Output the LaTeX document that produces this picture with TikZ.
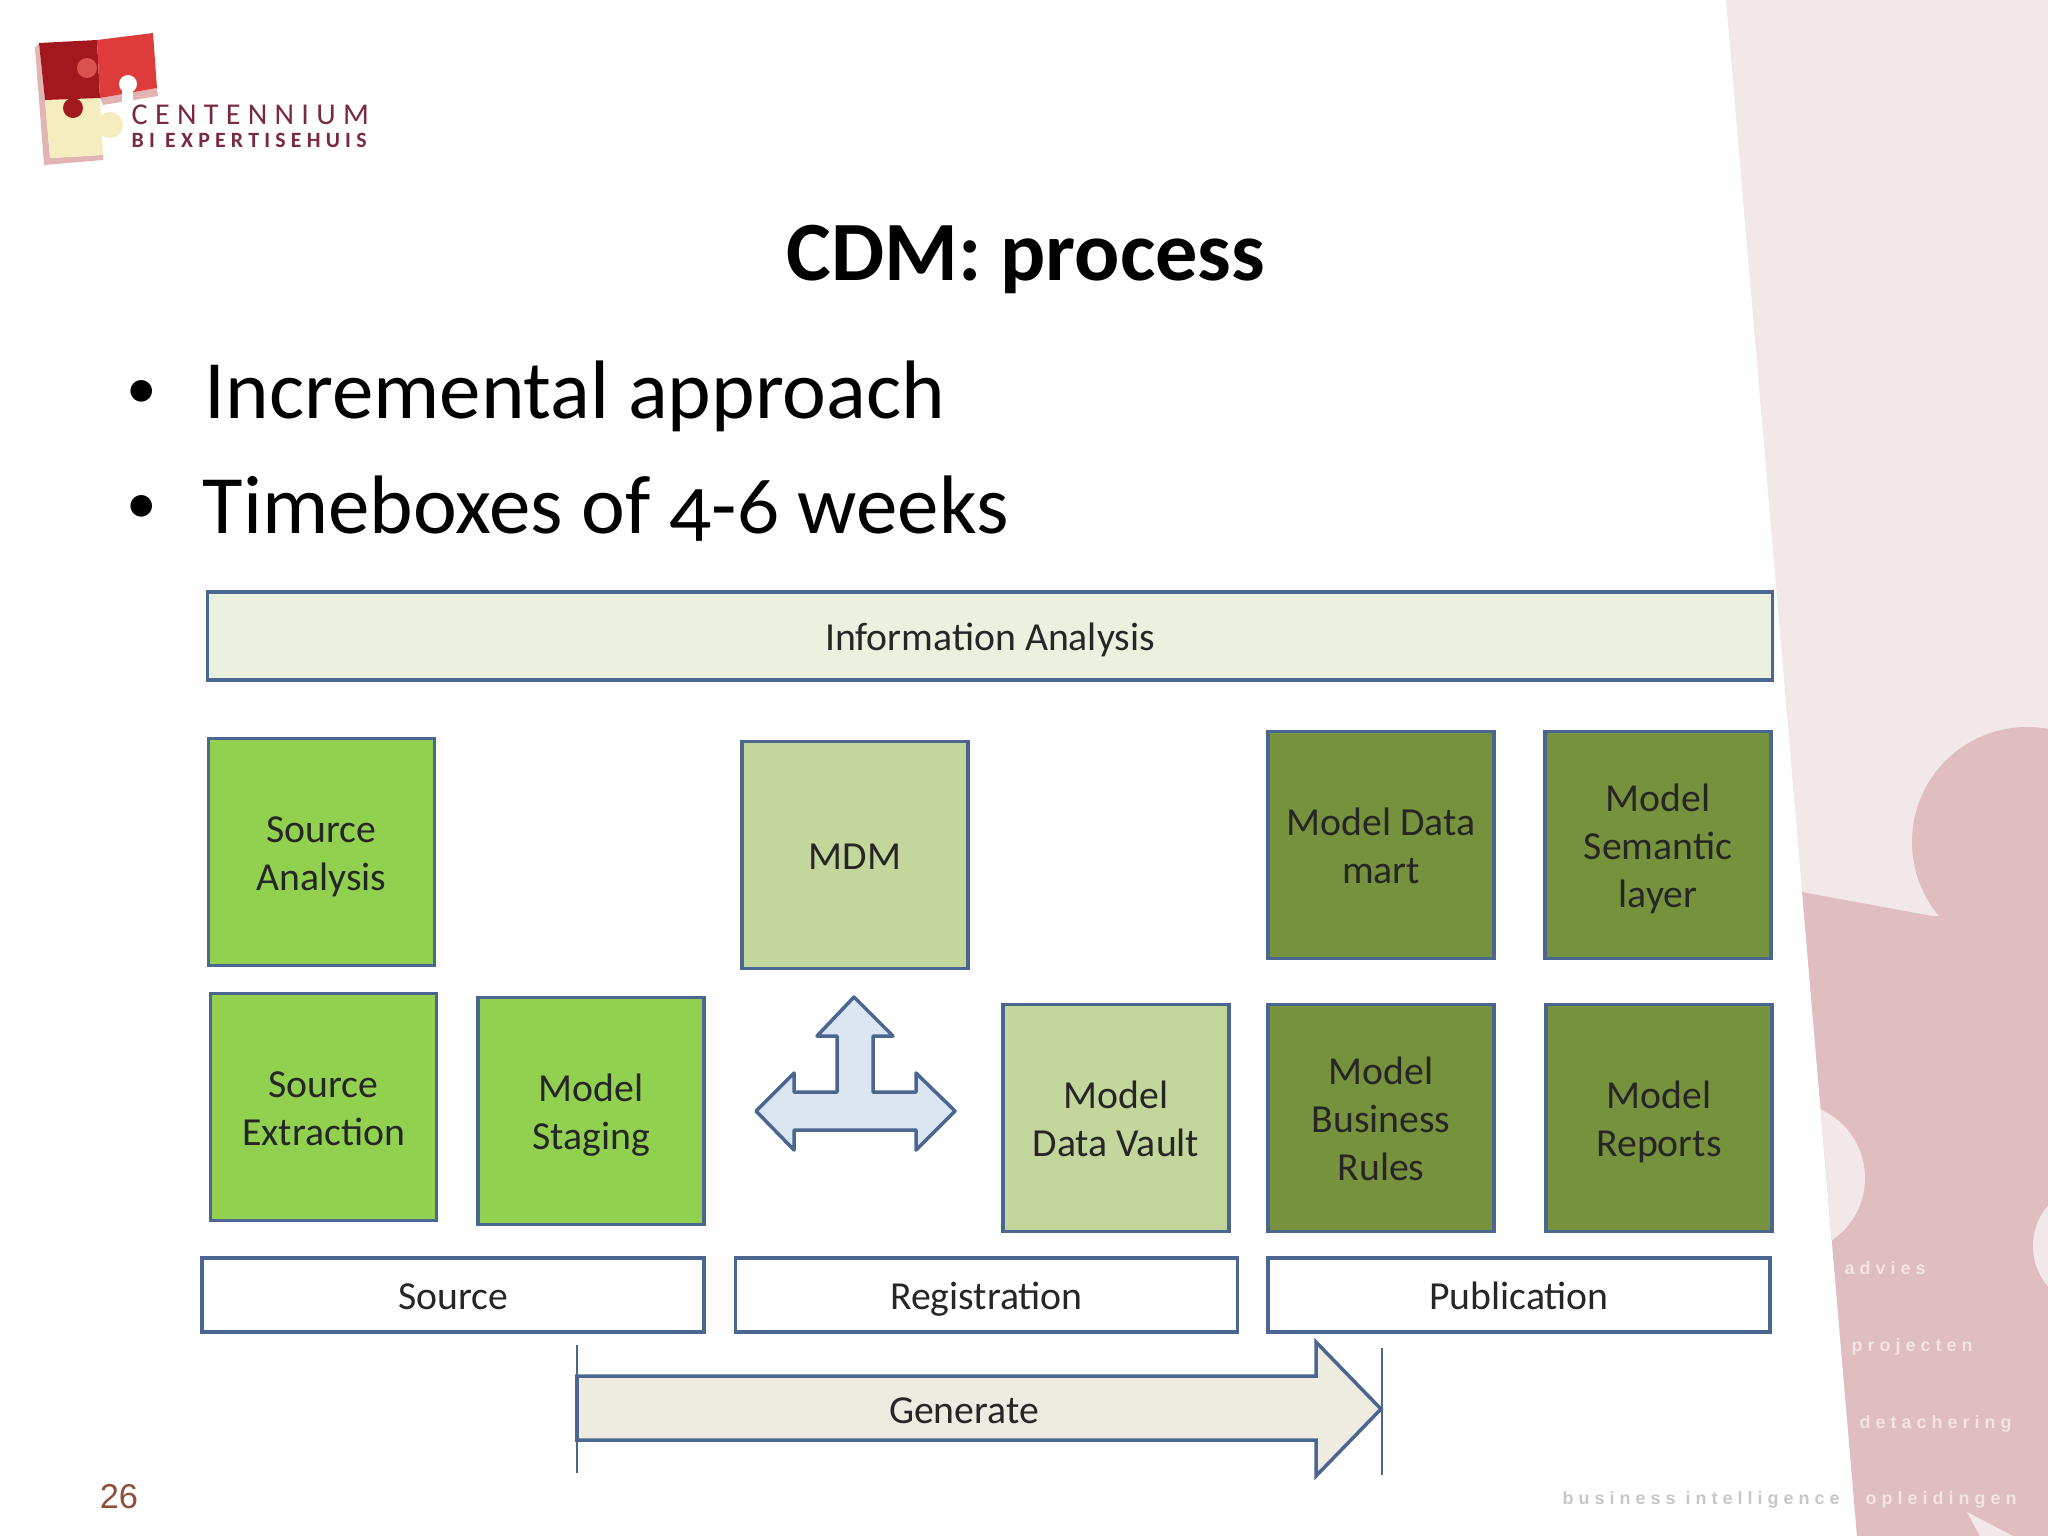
\documentclass[tikz,border=0pt]{standalone}
\usepackage{fontspec}
\setmainfont[Numbers=OldStyle]{Carlito}
\newfontfamily\logofont[LetterSpace=24]{Carlito}
\newfontfamily\footfont[LetterSpace=28]{Liberation Sans}
\newfontfamily\numfont{Liberation Sans}
\definecolor{bandpink}{HTML}{F2E8E8}
\definecolor{puzzlepink}{HTML}{DFBDC0}
\definecolor{edgeblue}{HTML}{4B6690}
\definecolor{brightgreen}{HTML}{92D050}
\definecolor{palegreen}{HTML}{C3D69B}
\definecolor{darkgreen}{HTML}{76923C}
\definecolor{infofill}{HTML}{EBF1DE}
\definecolor{crossfill}{HTML}{DCE6F2}
\definecolor{genfill}{HTML}{EEECE1}
\definecolor{logotext}{HTML}{7A2A3F}
\definecolor{logodark}{HTML}{A3181E}
\definecolor{logored}{HTML}{DE3B3B}
\definecolor{logoknob}{HTML}{D9524F}
\definecolor{logocream}{HTML}{F5EDBE}
\definecolor{logoshade}{HTML}{E3B4B4}
\definecolor{footpale}{HTML}{F3E4E5}
\definecolor{numbrown}{HTML}{8F4F3A}
\begin{document}
\begin{tikzpicture}[x=0.01cm, y=-0.01cm,
	label text/.style={text=black!85, inner sep=0pt, align=center, text depth=3.6pt, text height=11.8pt, font=\fontsize{11.3}{13.7}\selectfont},
	twoline/.style={text height=25.5pt},
	threeline/.style={text height=39.2pt},
	box/.style={label text, draw=edgeblue, line width=1pt},
	square/.style={box, minimum width=2.26cm, minimum height=2.27cm},
	brightbox/.style={square, fill=brightgreen, twoline},
	palebox/.style={square, fill=palegreen},
	darkbox/.style={square, fill=darkgreen},
	phase/.style={box, fill=white, minimum width=5.02cm, minimum height=0.74cm},
	bullet/.style={inner sep=0pt, anchor=base west, font=\fontsize{23.6}{27}\selectfont},
	dot/.style={inner sep=0pt, anchor=base west, font=\fontsize{17.4}{20}\selectfont},
	footer/.style={inner sep=0pt, anchor=base west, font=\fontsize{5.1}{6}\footfont\bfseries}]
	\useasboundingbox (0,0) rectangle (2048,1536);

	\begin{scope}
		\clip (1726,0) -- (2048,0) -- (2048,1536) -- (1857,1536) -- cycle;
		\fill[bandpink] (1726,0) rectangle (2048,1536);
		\fill[puzzlepink] (1780,888) -- (1932,916) -- (2048,916) -- (2048,1536) -- (1780,1536) -- cycle;
		\fill[puzzlepink] (2027,842) circle[radius=115];
		\fill[bandpink] (1790,1178) circle[radius=75];
		\fill[bandpink] (2095,1246) circle[radius=62];
		\fill[bandpink] (1967,1512) -- (2013,1536) -- (1980,1536) -- cycle;
	\end{scope}

	\fill[logoshade] (35,48) -- (39,43) -- (45,100) -- (50,158) -- (103,155) -- (103,160) -- (44,165) -- cycle;
	\fill[logoshade] (100,98) -- (157,88) -- (158,96) -- (103,105) -- cycle;
	\fill[logocream] (45,100) -- (100,98) -- (103,155) -- (50,158) -- cycle;
	\fill[logocream] (110,125) circle[radius=13];
	\fill[logodark] (39,43) -- (97,40) -- (100,98) -- (45,100) -- cycle;
	\fill[logored] (97,40) -- (153,33) -- (157,88) -- (100,98) -- cycle;
	\fill[logoknob] (87,68) circle[radius=10];
	\fill[logodark] (73,108) circle[radius=10];
	\fill[white] (128,84) circle[radius=9];
	\fill[white] (122,86) rectangle (133,106);
	\node[inner sep=0pt, anchor=base west, text=logotext, font=\fontsize{8.6}{9}\logofont] (logotop) at (131,124) {CENTENNIUM};
	\node[inner sep=0pt, anchor=base west, text=logotext, font=\fontsize{6.2}{7}\logofont\bfseries] (logobottom) at (131,147) {BI EXPERTISEHUIS};

	\node[inner sep=0pt, font=\fontsize{24}{28}\selectfont\bfseries] (title) at (1026,259) {CDM: process};
	\node[dot] (dot1) at (126,408) {\textbullet};
	\node[bullet] (line1) at (204,418) {Incremental approach};
	\node[dot] (dot2) at (126,523) {\textbullet};
	\node[bullet] (line2) at (202,533) {Timeboxes of 4-6 weeks};

	\node[box, fill=infofill, minimum width=15.64cm, minimum height=0.88cm] (info) at (990,636) {Information Analysis};

	\node[brightbox] (sourceanalysis) at (321.5,852) {Source\\Analysis};
	\node[palebox] (mdm) at (855,855) {MDM};
	\node[darkbox, twoline] (datamart) at (1381,845) {Model Data\\mart};
	\node[darkbox, threeline] (semantic) at (1658,845) {Model\\Semantic\\layer};
	\node[brightbox] (extraction) at (323.5,1107) {Source\\Extraction};
	\node[brightbox] (staging) at (591,1111) {Model\\Staging};
	\node[palebox, twoline] (datavault) at (1116,1118) {Model\\Data Vault};
	\node[darkbox, threeline] (rules) at (1381,1118) {Model\\Business\\Rules};
	\node[darkbox, twoline] (reports) at (1659,1118) {Model\\Reports};

	\node[phase] (source) at (453,1295) {Source};
	\node[phase] (registration) at (986.5,1295) {Registration};
	\node[phase] (publication) at (1519,1295) {Publication};

	\draw[draw=edgeblue, line width=1pt, fill=crossfill, line join=round] (854,997) -- (893,1036) -- (873,1036) -- (873,1092) -- (916,1092) -- (916,1073) -- (955,1111) -- (916,1150) -- (916,1130) -- (794,1130) -- (794,1150) -- (756,1111) -- (794,1073) -- (794,1092) -- (837,1092) -- (837,1036) -- (817,1036) -- cycle;

	\coordinate (lefttop) at (577,1345);
	\coordinate (leftbottom) at (577,1473);
	\coordinate (righttop) at (1382,1348);
	\coordinate (rightbottom) at (1382,1475);
	\draw[edgeblue, line width=0.3pt] (lefttop) -- (leftbottom) (righttop) -- (rightbottom);
	\draw[draw=edgeblue, line width=1pt, fill=genfill] (577,1376) -- (1316,1376) -- (1316,1342) -- (1381,1409) -- (1316,1476) -- (1316,1440) -- (577,1440) -- cycle;
	\node[label text] (generate) at (964,1409) {Generate};

	\node[inner sep=0pt, text=numbrown, font=\fontsize{9.8}{12}\numfont] (number) at (119,1497) {26};

	\node[footer, text=footpale] (advies) at (1844,1274) {advies};
	\node[footer, text=footpale] (projecten) at (1851,1351) {projecten};
	\node[footer, text=footpale] (detachering) at (1859,1428) {detachering};
	\node[footer, text=footpale] (opleidingen) at (1865,1504) {opleidingen};
	\node[footer, text=black!22] (business) at (1562,1504) {business intelligence};
\end{tikzpicture}
\end{document}
